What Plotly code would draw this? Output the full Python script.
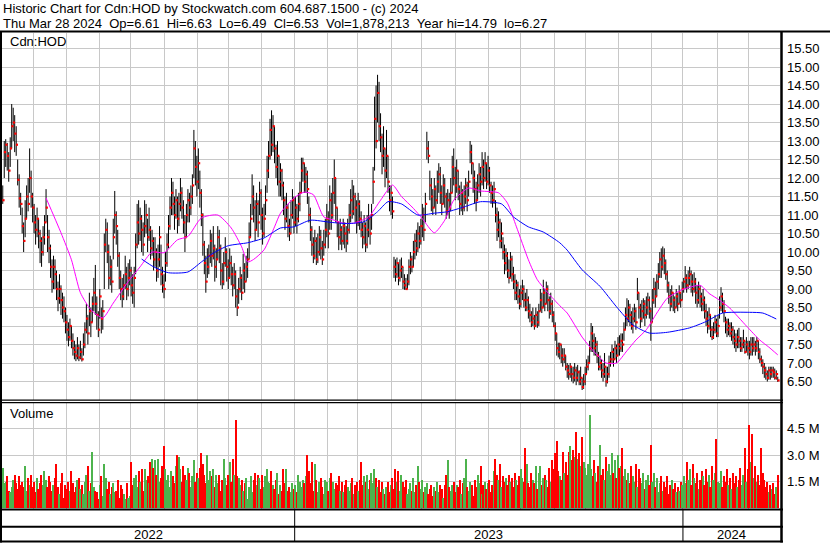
import pandas as pd
import plotly.graph_objects as go

TITLE_1 = "Historic Chart for Cdn:HOD by Stockwatch.com 604.687.1500 - (c) 2024"
TITLE_2 = ("Thu Mar 28 2024\u00a0\u00a0Op=6.61\u00a0\u00a0Hi=6.63\u00a0\u00a0Lo=6.49"
           "\u00a0\u00a0Cl=6.53\u00a0\u00a0Vol=1,878,213\u00a0\u00a0Year hi=14.79\u00a0\u00a0lo=6.27")
SYMBOL = "Cdn:HOD"
FIRST_SESSION = "2022-04-01"

# daily bars, one value per trading session
high = [
    11.80, 13.00, 13.05, 12.95, 12.70, 13.10, 14.00, 13.90, 13.70, 13.40, 12.50, 12.10, 11.60, 11.20, 10.80, 11.40, 11.80, 12.00, 12.80, 12.20,
    11.60, 11.30, 11.00, 11.20, 10.90, 10.60, 10.40, 10.70, 11.00, 11.70, 11.00, 10.60, 10.20, 9.80, 9.90, 9.80, 9.50, 9.20, 9.40, 9.10,
    8.90, 8.80, 8.50, 8.30, 8.10, 8.20, 8.00, 7.80, 7.60, 7.50, 7.70, 7.50, 7.60, 7.40, 7.80, 8.10, 8.60, 8.30, 8.90, 8.50,
    8.80, 9.30, 9.65, 8.80, 8.40, 9.00, 8.50, 8.70, 10.50, 10.90, 10.80, 10.20, 9.90, 9.80, 10.90, 11.65, 11.10, 10.60, 10.00, 9.50,
    9.30, 9.40, 9.90, 9.60, 9.70, 9.80, 9.60, 9.40, 9.60, 10.50, 11.30, 11.40, 11.20, 11.00, 10.80, 11.40, 11.30, 10.90, 11.20, 10.70,
    10.60, 10.40, 10.40, 10.10, 10.20, 10.70, 10.20, 9.60, 9.40, 10.00, 10.50, 11.00, 11.50, 12.00, 11.90, 11.50, 11.70, 11.50, 11.60, 12.00,
    11.75, 11.40, 11.00, 11.30, 11.70, 11.60, 11.80, 12.10, 13.30, 13.00, 12.60, 12.80, 12.20, 11.70, 11.05, 10.30, 9.90, 10.10, 10.20, 10.60,
    10.50, 10.70, 10.20, 10.10, 10.70, 10.60, 10.20, 9.70, 10.00, 10.40, 10.10, 9.80, 10.10, 9.90, 9.60, 9.70, 9.50, 9.00, 9.30, 9.60,
    9.40, 9.95, 9.70, 9.90, 10.10, 10.80, 11.30, 12.10, 11.80, 11.40, 11.60, 11.40, 11.90, 11.70, 11.20, 11.30, 11.80, 12.60, 13.00, 13.60,
    13.83, 13.70, 13.40, 12.90, 13.00, 12.60, 12.40, 12.25, 11.90, 11.50, 11.60, 11.30, 10.90, 11.40, 11.70, 11.50, 11.50, 11.30, 11.60, 11.90,
    12.55, 12.55, 12.40, 12.30, 12.20, 11.50, 11.20, 10.70, 10.40, 10.60, 10.40, 10.50, 10.70, 10.60, 10.30, 10.60, 10.90, 11.30, 11.10, 11.80,
    11.60, 12.00, 12.50, 12.00, 11.20, 10.80, 10.90, 10.70, 10.90, 10.80, 10.70, 10.90, 11.30, 11.70, 11.95, 11.80, 11.60, 11.40, 11.60, 11.40,
    11.10, 10.80, 11.00, 10.80, 11.00, 11.30, 11.00, 11.30, 12.30, 14.20, 14.50, 14.79, 14.60, 13.75, 13.20, 13.40, 12.80, 13.30, 12.60, 11.80,
    11.80, 11.50, 9.87, 9.80, 9.85, 9.70, 9.80, 9.85, 9.60, 9.40, 9.30, 9.40, 9.80, 10.00, 9.90, 10.30, 10.50, 10.60, 10.80, 10.70,
    10.90, 11.30, 11.20, 11.60, 13.25, 13.00, 12.20, 12.00, 11.70, 12.00, 11.80, 12.20, 12.40, 12.30, 11.80, 12.10, 12.00, 11.60, 11.70, 11.60,
    12.00, 12.60, 12.80, 12.30, 12.50, 12.20, 11.80, 11.90, 11.70, 11.80, 12.00, 11.90, 12.20, 13.00, 12.90, 12.40, 12.20, 11.90, 12.10, 12.40,
    12.30, 12.70, 12.50, 12.70, 12.40, 12.60, 12.30, 11.90, 11.80, 11.90, 11.40, 11.20, 11.10, 10.90, 10.80, 10.40, 10.20, 10.10, 10.00, 9.80,
    10.00, 9.90, 9.60, 9.40, 9.25, 9.20, 9.00, 9.10, 9.25, 9.10, 8.90, 9.00, 8.80, 8.60, 8.40, 8.50, 8.30, 8.50, 8.40, 8.60,
    9.00, 8.90, 9.25, 9.00, 9.20, 9.10, 8.80, 8.90, 8.70, 8.40, 8.10, 7.80, 7.55, 7.55, 7.50, 7.40, 7.40, 7.20, 7.00, 6.95,
    7.00, 6.90, 6.90, 7.00, 6.90, 6.95, 6.80, 6.90, 6.60, 6.70, 6.90, 7.10, 7.20, 7.60, 8.08, 8.00, 7.80, 7.70, 7.60, 7.30,
    7.20, 7.10, 7.00, 7.27, 6.90, 6.90, 7.20, 7.30, 7.50, 7.40, 7.60, 7.50, 7.70, 7.75, 7.80, 7.80, 8.10, 8.50, 8.75, 8.70,
    8.60, 8.40, 8.50, 8.60, 8.50, 9.30, 8.90, 8.60, 8.70, 8.75, 8.70, 8.80, 8.90, 8.80, 8.50, 9.00, 9.30, 9.20, 9.40, 9.70,
    10.00, 10.10, 10.15, 10.10, 9.80, 9.50, 9.20, 9.00, 9.10, 8.90, 8.80, 9.00, 8.90, 9.10, 8.90, 9.20, 9.30, 9.62, 9.40, 9.50,
    9.60, 9.50, 9.40, 9.45, 9.30, 9.10, 9.20, 9.10, 8.90, 9.00, 8.80, 8.60, 8.40, 8.50, 8.30, 8.00, 8.10, 8.30, 8.20, 8.30,
    8.80, 9.05, 8.90, 8.70, 8.25, 8.20, 8.20, 8.10, 8.10, 8.00, 7.90, 7.80, 7.90, 7.95, 7.70, 7.70, 7.90, 7.60, 7.70, 7.60,
    7.60, 7.70, 7.70, 7.70, 7.60, 7.70, 7.60, 7.40, 7.20, 7.10, 7.00, 6.90, 6.80, 6.90, 6.90, 6.90, 6.90, 6.85, 6.80, 6.63,
]
low = [
    11.30, 12.00, 12.30, 12.20, 11.90, 12.30, 12.80, 13.00, 12.70, 12.60, 11.80, 11.20, 11.00, 10.50, 10.00, 10.40, 10.90, 11.10, 11.60, 11.20,
    10.80, 10.50, 10.20, 10.40, 10.10, 9.70, 9.60, 9.90, 10.20, 10.80, 10.00, 9.70, 9.30, 8.90, 9.00, 9.00, 8.70, 8.40, 8.60, 8.30,
    8.20, 8.10, 7.80, 7.60, 7.45, 7.60, 7.40, 7.20, 7.10, 7.05, 7.10, 7.05, 7.10, 7.04, 7.20, 7.40, 7.80, 7.50, 8.00, 7.70,
    8.10, 8.40, 8.30, 7.90, 7.70, 8.20, 7.80, 7.90, 9.00, 10.00, 9.70, 9.00, 9.10, 8.90, 9.80, 10.50, 10.20, 9.60, 9.00, 8.70,
    8.50, 8.70, 9.00, 8.70, 8.80, 9.10, 8.80, 8.60, 8.50, 9.40, 10.10, 10.20, 10.30, 10.00, 9.90, 10.40, 10.50, 10.00, 10.30, 9.80,
    9.90, 9.50, 9.60, 9.20, 9.30, 9.60, 9.10, 8.90, 8.75, 9.20, 9.60, 10.10, 10.60, 11.00, 11.00, 10.60, 10.90, 10.50, 10.70, 11.10,
    10.90, 10.50, 10.00, 10.40, 10.80, 10.80, 11.00, 11.30, 12.00, 11.80, 11.50, 11.70, 11.20, 10.70, 9.90, 9.40, 8.90, 9.30, 9.40, 9.70,
    9.60, 9.80, 9.20, 9.30, 9.80, 9.70, 9.10, 9.00, 9.10, 9.60, 9.20, 9.00, 9.30, 9.10, 8.80, 9.00, 8.50, 8.27, 8.60, 8.90,
    8.70, 9.00, 8.90, 9.20, 9.30, 9.80, 10.40, 11.00, 10.80, 10.30, 10.60, 10.40, 11.00, 10.60, 10.20, 10.40, 11.00, 11.60, 12.00, 12.50,
    12.60, 12.70, 12.40, 12.00, 11.80, 11.50, 11.50, 11.40, 11.00, 10.60, 10.80, 10.40, 10.30, 10.50, 10.90, 10.50, 10.70, 10.50, 10.80, 11.10,
    11.60, 11.90, 11.60, 11.60, 11.30, 10.80, 10.30, 9.90, 9.70, 9.80, 9.65, 9.70, 9.90, 9.80, 9.65, 9.90, 10.10, 10.40, 10.10, 10.60,
    10.60, 10.90, 11.30, 10.80, 10.40, 10.05, 10.20, 10.05, 10.20, 10.10, 10.00, 10.20, 10.50, 10.80, 10.90, 11.00, 10.80, 10.50, 10.70, 10.60,
    10.40, 10.10, 10.20, 10.00, 10.10, 10.40, 10.20, 10.60, 11.30, 12.20, 12.80, 13.50, 13.00, 12.70, 12.10, 12.30, 11.75, 12.00, 11.60, 11.10,
    11.00, 10.90, 9.30, 9.20, 9.30, 9.10, 9.20, 9.30, 9.00, 8.98, 8.98, 9.00, 9.10, 9.40, 9.45, 9.60, 9.80, 9.90, 10.00, 10.10,
    10.20, 10.40, 10.30, 10.80, 12.50, 12.40, 11.40, 11.10, 11.00, 11.20, 11.00, 11.30, 11.60, 11.30, 11.00, 11.30, 11.20, 10.90, 11.00, 10.90,
    11.10, 11.60, 11.80, 11.40, 11.60, 11.40, 11.00, 11.10, 11.00, 11.10, 11.30, 11.10, 11.50, 12.40, 12.10, 11.60, 11.30, 11.10, 11.40, 11.60,
    11.50, 11.80, 11.70, 11.90, 11.70, 11.80, 11.60, 11.30, 11.20, 11.30, 10.80, 10.30, 10.40, 10.10, 10.10, 9.80, 9.40, 9.50, 9.30, 9.15,
    9.30, 9.20, 9.00, 8.70, 8.70, 8.60, 8.45, 8.50, 8.70, 8.50, 8.40, 8.40, 8.20, 8.10, 7.97, 8.00, 7.90, 8.00, 7.95, 8.00,
    8.40, 8.35, 8.50, 8.40, 8.60, 8.40, 8.20, 8.30, 8.10, 7.97, 7.60, 7.20, 7.15, 7.10, 7.00, 6.90, 7.00, 6.80, 6.60, 6.55,
    6.60, 6.50, 6.45, 6.50, 6.40, 6.50, 6.40, 6.40, 6.27, 6.30, 6.40, 6.70, 6.80, 7.00, 7.30, 7.30, 7.20, 7.20, 7.00, 6.80,
    6.80, 6.60, 6.50, 6.60, 6.36, 6.45, 6.60, 6.90, 7.00, 6.90, 7.10, 7.00, 7.20, 7.20, 7.30, 7.30, 7.60, 7.90, 8.00, 8.10,
    8.00, 7.90, 7.80, 8.10, 7.90, 8.70, 8.20, 7.95, 8.10, 8.20, 8.00, 8.20, 8.30, 8.20, 7.60, 8.10, 8.60, 8.50, 8.80, 9.00,
    9.30, 9.30, 9.50, 9.40, 9.25, 8.90, 8.60, 8.40, 8.50, 8.40, 8.35, 8.50, 8.40, 8.60, 8.50, 8.70, 8.90, 9.00, 8.90, 9.00,
    9.10, 8.90, 8.80, 8.90, 8.60, 8.50, 8.60, 8.50, 8.40, 8.40, 8.20, 8.00, 7.80, 7.90, 7.70, 7.62, 7.65, 7.80, 7.70, 7.70,
    8.20, 8.40, 8.35, 8.10, 7.80, 7.70, 7.75, 7.70, 7.60, 7.50, 7.40, 7.30, 7.40, 7.40, 7.30, 7.30, 7.40, 7.25, 7.30, 7.20,
    7.10, 7.20, 7.20, 7.30, 7.20, 7.30, 7.10, 7.00, 6.90, 6.70, 6.60, 6.55, 6.50, 6.55, 6.55, 6.60, 6.60, 6.55, 6.55, 6.49,
]
close = [
    11.40, 12.70, 12.90, 12.60, 12.20, 12.80, 13.40, 13.50, 13.20, 12.90, 11.95, 11.45, 11.30, 10.70, 10.30, 10.90, 11.50, 11.30, 12.00, 11.50,
    11.20, 10.80, 10.60, 10.90, 10.50, 10.30, 10.00, 10.40, 10.80, 11.20, 10.40, 10.10, 9.60, 9.20, 9.60, 9.40, 9.00, 8.75, 9.00, 8.70,
    8.50, 8.40, 8.10, 7.90, 7.70, 8.00, 7.60, 7.40, 7.30, 7.20, 7.40, 7.15, 7.30, 7.10, 7.50, 7.90, 8.20, 7.80, 8.40, 8.10,
    8.60, 8.90, 8.60, 8.30, 7.90, 8.80, 8.20, 8.40, 10.20, 10.60, 10.00, 9.30, 9.60, 9.20, 10.40, 11.00, 10.70, 9.90, 9.30, 9.00,
    8.80, 9.10, 9.40, 9.00, 9.30, 9.50, 9.10, 8.90, 9.30, 10.20, 10.80, 10.50, 10.90, 10.60, 10.20, 10.70, 11.00, 10.40, 10.60, 10.10,
    10.30, 9.80, 10.00, 9.50, 9.80, 10.40, 9.40, 9.10, 9.00, 9.70, 10.20, 10.70, 11.20, 11.60, 11.30, 11.00, 11.40, 10.90, 11.30, 11.60,
    11.20, 10.80, 10.40, 11.00, 11.40, 11.20, 11.50, 11.80, 12.80, 12.30, 11.90, 12.40, 11.60, 11.00, 10.20, 9.70, 9.20, 9.60, 9.90, 10.30,
    9.90, 10.10, 9.60, 9.80, 10.40, 10.10, 9.50, 9.20, 9.70, 10.00, 9.60, 9.30, 9.70, 9.40, 9.10, 9.40, 8.80, 8.50, 9.00, 9.30,
    8.90, 9.50, 9.20, 9.60, 9.80, 10.40, 10.90, 11.50, 11.20, 10.60, 11.30, 10.80, 11.60, 11.00, 10.50, 10.90, 11.40, 12.20, 12.60, 13.30,
    12.90, 13.40, 12.80, 12.30, 12.60, 11.90, 12.20, 11.80, 11.40, 10.90, 11.20, 10.70, 10.50, 11.00, 11.40, 10.80, 11.20, 10.90, 11.30, 11.60,
    12.20, 12.40, 11.90, 12.10, 11.70, 11.00, 10.60, 10.20, 9.90, 10.30, 9.80, 10.00, 10.40, 10.10, 9.80, 10.20, 10.60, 10.90, 10.50, 11.40,
    11.00, 11.60, 12.00, 11.20, 10.80, 10.40, 10.60, 10.30, 10.70, 10.50, 10.30, 10.60, 11.00, 11.40, 11.10, 11.50, 11.20, 10.80, 11.30, 10.90,
    10.60, 10.40, 10.70, 10.20, 10.60, 10.90, 10.50, 11.00, 11.90, 13.60, 13.00, 14.30, 13.40, 13.10, 12.60, 12.80, 12.20, 12.60, 11.90, 11.40,
    11.60, 11.10, 9.60, 9.40, 9.70, 9.30, 9.50, 9.60, 9.20, 9.10, 9.00, 9.20, 9.60, 9.80, 9.60, 10.00, 10.30, 10.10, 10.50, 10.30,
    10.70, 11.00, 10.60, 11.30, 12.80, 12.60, 11.80, 11.50, 11.20, 11.70, 11.40, 11.90, 12.10, 11.60, 11.30, 11.80, 11.50, 11.10, 11.40, 11.20,
    11.60, 12.30, 12.00, 11.80, 12.20, 11.70, 11.30, 11.60, 11.20, 11.50, 11.80, 11.40, 11.90, 12.70, 12.40, 12.00, 11.70, 11.40, 11.80, 12.10,
    11.90, 12.30, 12.00, 12.40, 11.90, 12.20, 11.80, 11.60, 11.40, 11.70, 11.00, 10.60, 10.80, 10.30, 10.50, 10.00, 9.70, 9.90, 9.50, 9.30,
    9.80, 9.40, 9.20, 8.90, 9.10, 8.80, 8.60, 8.90, 9.00, 8.70, 8.50, 8.70, 8.40, 8.30, 8.10, 8.20, 8.00, 8.30, 8.10, 8.40,
    8.70, 8.50, 8.90, 8.60, 9.00, 8.70, 8.40, 8.60, 8.30, 8.00, 7.80, 7.40, 7.30, 7.50, 7.20, 7.10, 7.20, 6.90, 6.80, 6.70,
    6.90, 6.70, 6.60, 6.80, 6.60, 6.75, 6.50, 6.60, 6.35, 6.50, 6.70, 6.90, 7.00, 7.40, 7.80, 7.60, 7.40, 7.50, 7.20, 6.90,
    7.00, 6.80, 6.70, 6.90, 6.50, 6.70, 7.00, 7.10, 7.30, 7.10, 7.40, 7.20, 7.50, 7.40, 7.60, 7.50, 7.90, 8.30, 8.20, 8.50,
    8.30, 8.00, 8.20, 8.40, 8.10, 8.90, 8.50, 8.20, 8.40, 8.60, 8.30, 8.50, 8.70, 8.40, 8.10, 8.70, 9.00, 8.80, 9.20, 9.40,
    9.80, 9.60, 9.90, 9.70, 9.40, 9.10, 8.80, 8.60, 8.90, 8.70, 8.50, 8.80, 8.60, 8.90, 8.70, 9.00, 9.20, 9.30, 9.10, 9.30,
    9.40, 9.20, 9.00, 9.20, 8.90, 8.70, 9.00, 8.80, 8.60, 8.70, 8.40, 8.20, 8.00, 8.30, 7.90, 7.70, 7.90, 8.10, 7.80, 8.00,
    8.50, 8.80, 8.60, 8.40, 8.10, 7.90, 8.00, 7.80, 7.90, 7.70, 7.60, 7.50, 7.70, 7.60, 7.40, 7.50, 7.60, 7.30, 7.50, 7.40,
    7.30, 7.50, 7.40, 7.50, 7.40, 7.60, 7.30, 7.10, 7.00, 6.90, 6.80, 6.70, 6.60, 6.80, 6.70, 6.80, 6.75, 6.60, 6.70, 6.53,
]
# millions of shares
volume_m = [
    2.3, 1.4, 1.5, 1.8, 1.0, 0.9, 1.2, 1.6, 1.9, 1.4, 1.1, 1.8, 1.3, 1.5, 1.2, 2.4, 1.0, 1.7, 1.3, 1.9,
    1.2, 1.5, 0.9, 1.7, 1.1, 1.4, 1.9, 1.3, 2.1, 1.6, 1.2, 1.8, 1.5, 1.0, 1.3, 1.7, 2.5, 1.2, 0.8, 1.4,
    2.0, 0.6, 1.3, 1.1, 1.5, 1.0, 2.1, 1.4, 0.9, 1.2, 1.6, 1.7, 1.1, 1.3, 0.8, 1.5, 1.9, 2.4, 1.0, 1.4,
    3.2, 1.2, 1.0, 0.9, 0.5, 1.3, 1.8, 0.7, 2.5, 1.7, 1.1, 1.5, 0.8, 1.2, 1.4, 0.9, 1.0, 1.6, 0.6, 1.3,
    1.1, 0.8, 0.5, 1.4, 0.6, 0.7, 2.6, 1.3, 1.7, 1.9, 1.2, 2.1, 1.5, 2.2, 1.0, 2.2, 1.6, 1.8, 1.4, 2.6,
    2.8, 2.3, 2.7, 1.9, 2.8, 1.5, 1.7, 2.4, 3.5, 2.2, 1.6, 1.9, 1.2, 2.1, 1.8, 1.4, 2.4, 3.0, 2.9, 2.2,
    1.5, 2.4, 1.9, 1.6, 2.3, 2.0, 1.2, 1.8, 2.7, 1.5, 2.0, 1.7, 2.3, 3.1, 2.5, 1.9, 1.4, 3.0, 1.6, 2.1,
    1.8, 2.2, 1.2, 1.9, 1.4, 1.9, 1.0, 1.6, 2.8, 1.7, 1.3, 1.9, 2.6, 1.5, 2.8, 1.9, 5.0, 1.8, 1.7, 1.3,
    1.6, 1.0, 1.4, 1.7, 0.5, 1.2, 1.8, 0.9, 1.6, 2.0, 1.3, 1.9, 1.7, 1.1, 1.9, 1.2, 1.8, 2.2, 1.5, 1.4,
    2.1, 1.3, 1.1, 1.6, 2.0, 0.8, 1.3, 1.0, 2.2, 1.4, 2.2, 1.0, 1.2, 0.9, 1.4, 1.1, 1.3, 0.9, 1.9, 1.5,
    1.2, 1.6, 1.4, 1.8, 3.0, 2.1, 1.4, 2.6, 1.0, 2.5, 1.6, 0.9, 1.5, 1.7, 1.2, 0.8, 1.6, 1.5, 1.0, 1.7,
    2.0, 1.5, 1.1, 1.4, 1.3, 1.8, 1.0, 1.5, 0.9, 1.3, 1.6, 1.2, 1.0, 1.4, 1.7, 0.8, 1.3, 1.5, 1.0, 1.6,
    2.6, 1.3, 1.8, 1.5, 1.9, 1.1, 1.6, 2.0, 1.4, 2.2, 1.7, 1.2, 1.6, 0.9, 1.5, 1.1, 0.8, 1.2, 1.5, 0.9,
    1.3, 1.7, 1.1, 2.2, 1.5, 2.1, 1.0, 1.9, 1.5, 1.2, 1.6, 0.8, 1.1, 1.4, 1.0, 1.7, 0.9, 1.3, 2.4, 1.5,
    1.1, 1.6, 0.9, 1.2, 1.4, 0.8, 1.1, 1.3, 0.7, 1.2, 1.0, 1.5, 0.9, 1.3, 1.1, 0.6, 1.3, 1.9, 2.7, 1.2,
    1.0, 1.3, 1.5, 0.9, 1.3, 1.2, 1.6, 0.8, 1.4, 1.7, 2.8, 1.2, 1.0, 1.5, 1.3, 0.7, 1.6, 1.2, 1.9, 1.4,
    2.4, 0.8, 1.3, 1.5, 1.1, 1.4, 1.6, 0.9, 1.3, 2.1, 2.8, 1.9, 1.6, 2.5, 1.2, 1.8, 1.5, 1.7, 1.3, 1.9,
    1.5, 1.7, 1.2, 2.0, 1.6, 1.3, 1.8, 2.2, 1.7, 1.5, 3.4, 2.5, 1.4, 1.2, 2.0, 1.6, 1.4, 2.4, 1.1, 2.0,
    2.4, 1.3, 1.7, 1.9, 1.6, 1.2, 2.3, 1.5, 2.7, 2.2, 3.1, 3.8, 2.1, 1.8, 1.6, 3.2, 2.0, 2.6, 1.9, 3.2,
    3.5, 2.7, 3.3, 2.9, 4.3, 2.8, 3.1, 2.4, 4.0, 2.6, 2.3, 1.9, 2.5, 5.3, 2.2, 1.8, 2.7, 2.0, 1.5, 2.4,
    3.6, 1.9, 2.2, 1.6, 2.9, 2.1, 2.5, 1.9, 3.1, 2.0, 2.7, 1.7, 3.0, 2.3, 2.4, 3.4, 1.8, 2.2, 1.6, 2.0,
    1.4, 2.4, 1.8, 1.5, 2.5, 1.2, 2.2, 1.7, 1.4, 2.0, 1.1, 1.6, 1.9, 1.3, 3.6, 1.5, 2.0, 1.2, 1.7, 0.9,
    1.4, 1.8, 1.0, 1.5, 1.2, 1.8, 0.8, 1.3, 1.6, 1.1, 1.4, 0.9, 1.2, 1.0, 1.5, 1.3, 1.8, 1.4, 2.6, 1.6,
    2.2, 1.3, 2.5, 1.7, 1.4, 2.0, 1.1, 1.6, 2.1, 1.8, 1.3, 2.2, 1.5, 1.9, 1.2, 2.4, 1.6, 2.0, 3.9, 1.5,
    1.4, 2.1, 1.2, 1.8, 1.5, 2.2, 1.3, 1.7, 1.1, 2.0, 1.4, 1.8, 1.2, 1.6, 2.3, 1.3, 1.9, 3.4, 1.5, 2.2,
    4.7, 2.6, 4.2, 1.7, 2.4, 1.5, 1.9, 1.3, 3.4, 2.0, 1.6, 1.2, 1.5, 0.9, 1.3, 1.1, 1.4, 0.8, 1.2, 1.878,
]

# moving averages (session number -> price)
ma_fast_session = [29, 39, 46, 52, 59, 67, 74, 84, 92, 100, 108, 117, 124, 133, 144, 153, 160, 164, 168, 175,
                   182, 186, 195, 202, 208, 215, 222, 228, 235, 245, 253, 261, 267, 275, 281, 289, 296, 302, 312, 320,
                   332, 338, 344, 352, 358, 365, 373, 378, 388, 395, 404, 411, 418, 424, 431, 438, 445, 455, 467, 473,
                   480, 487, 498, 507, 513, 519]
ma_fast_value = [11.46, 10.52, 9.79, 8.90, 8.44, 8.22, 8.62, 9.20, 9.60, 10.00, 9.98, 10.33, 10.42, 10.92, 11.00, 10.65, 10.14, 9.73, 9.80, 10.06,
                 10.68, 11.05, 11.46, 11.62, 11.55, 10.95, 10.86, 10.78, 10.78, 10.95, 11.40, 11.81, 11.50, 11.18, 10.90, 10.52, 10.86, 11.40, 11.73, 11.65,
                 11.60, 11.32, 10.68, 9.79, 9.25, 8.90, 8.55, 8.35, 7.70, 7.35, 7.00, 7.00, 7.33, 7.62, 7.90, 8.35, 8.75, 8.98, 9.10, 8.88,
                 8.70, 8.48, 8.00, 7.62, 7.43, 7.22]
ma_slow_session = [93, 101, 111, 124, 133, 141, 151, 164, 175, 186, 195, 206, 220, 231, 242, 251, 258, 267, 278, 289,
                   298, 309, 320, 334, 342, 352, 362, 373, 378, 388, 400, 411, 422, 433, 445, 460, 471, 482, 500, 509,
                   518]
ma_slow_value = [9.81, 9.60, 9.44, 9.46, 9.73, 9.97, 10.17, 10.25, 10.38, 10.65, 10.68, 10.86, 10.80, 10.77, 10.82, 11.09, 11.36, 11.30, 11.00, 11.05,
                 11.09, 11.22, 11.36, 11.30, 10.95, 10.68, 10.54, 10.25, 10.05, 9.52, 9.07, 8.52, 8.03, 7.81, 7.83, 7.95, 8.12, 8.35, 8.37, 8.35,
                 8.19]

price_ticks = [6.5, 7.0, 7.5, 8.0, 8.5, 9.0, 9.5, 10.0, 10.5, 11.0, 11.5, 12.0, 12.5, 13.0, 13.5, 14.0, 14.5, 15.0, 15.5]
volume_ticks = [1.5, 3.0, 4.5]

FONT = "Liberation Sans, Arial, sans-serif"
GRID = "#c8c8c8"
GREEN, RED, GREY = "#4db34d", "#ff0000", "#a8a8a8"

# page geometry (pixels)
W, H = 830, 543
ML, MR, MT, MB = 2, 50, 33, 33


def fx(px):
    return (px - ML) / (W - ML - MR)


def fy(py):
    return (H - MB - py) / (H - MT - MB)


n = len(close)
sessions = list(range(n))
dates = pd.bdate_range(FIRST_SESSION, periods=n)
month_starts = [i for i in range(1, n) if dates[i].month != dates[i - 1].month]
year_starts = [i for i in range(1, n) if dates[i].year != dates[i - 1].year]
x_max = n + 0.5

# high-low sticks as one broken line
bx, by = [], []
for i, (h, l) in enumerate(zip(high, low)):
    bx += [i, i, None]
    by += [l, h, None]

vol_colors = [GREEN]
for prev, cur in zip(close[:-1], close[1:]):
    vol_colors.append(GREEN if cur > prev else RED if cur < prev else GREY)

fig = go.Figure()
fig.add_trace(go.Scatter(x=bx, y=by, mode="lines", line=dict(color="black", width=1),
                         hoverinfo="skip", showlegend=False))
# close ticks: small red squares on the right edge of each stick
fig.add_trace(go.Scatter(x=[i + 0.5 for i in sessions], y=close, mode="markers",
                         marker=dict(symbol="square", size=2.2, color=RED, line_width=0),
                         hoverinfo="skip", showlegend=False))
fig.add_trace(go.Scatter(x=ma_fast_session, y=ma_fast_value, mode="lines",
                         line=dict(color="#ff00ff", width=1, shape="spline", smoothing=0.6),
                         hoverinfo="skip", showlegend=False))
fig.add_trace(go.Scatter(x=ma_slow_session, y=ma_slow_value, mode="lines",
                         line=dict(color="#0000ff", width=1, shape="spline", smoothing=0.6),
                         hoverinfo="skip", showlegend=False))
fig.add_trace(go.Bar(x=sessions, y=volume_m, width=0.8, marker=dict(color=vol_colors, line_width=0),
                     xaxis="x2", yaxis="y2", hoverinfo="skip", showlegend=False))

xaxis_common = dict(range=[-0.5, x_max], tickvals=[i - 0.5 for i in month_starts], showticklabels=False,
                    ticks="", showgrid=True, gridcolor=GRID, gridwidth=1, zeroline=False, showline=False)
yaxis_common = dict(side="right", ticks="", showgrid=True, gridcolor=GRID, gridwidth=1, zeroline=False,
                    showline=False, ticklabelstandoff=6, tickfont=dict(family=FONT, size=13, color="black"))

fig.update_layout(
    width=W, height=H,
    margin=dict(l=ML, r=MR, t=MT, b=MB),
    paper_bgcolor="white", plot_bgcolor="white",
    showlegend=False, bargap=0,
    xaxis=dict(anchor="y", **xaxis_common),
    xaxis2=dict(anchor="y2", matches="x", **xaxis_common),
    yaxis=dict(domain=[fy(400), 1], range=[6.0, 15.92], tickvals=price_ticks,
               ticktext=[f"{v:.2f}" for v in price_ticks], **yaxis_common),
    yaxis2=dict(domain=[0, fy(403)], range=[-0.1, 5.95], tickvals=volume_ticks,
                ticktext=[f"{v:.1f} M" for v in volume_ticks], **yaxis_common),
)

# frame lines
shapes = []


def hline(py, x0=0, x1=783, w=2):
    shapes.append(dict(type="line", xref="paper", yref="paper", x0=fx(x0), x1=fx(x1),
                       y0=fy(py), y1=fy(py), line=dict(color="black", width=w)))


def vline(px, y0, y1, w=2):
    shapes.append(dict(type="line", xref="paper", yref="paper", x0=fx(px), x1=fx(px),
                       y0=fy(y0), y1=fy(y1), line=dict(color="black", width=w)))


hline(31.5, 0, W)
hline(400.2, w=1.3)
hline(402.7, w=1.3)
hline(509.5)
hline(526.7)
hline(541.5)
vline(1, 31, 542.5)
vline(781.5, 31, 542.5, w=2.5)
for ys in year_starts:
    shapes.append(dict(type="line", xref="x", yref="paper", x0=ys - 0.5, x1=ys - 0.5,
                       y0=fy(510), y1=fy(541), line=dict(color="black", width=1)))
fig.update_layout(shapes=shapes)

anns = [
    dict(text=TITLE_1, x=fx(1), y=fy(8.5)),
    dict(text=TITLE_2, x=fx(1), y=fy(23)),
    dict(text=SYMBOL, x=fx(8), y=fy(41.5)),
    dict(text="Volume", x=fx(8), y=fy(413)),
]
for a in anns:
    a.update(xref="paper", yref="paper", xanchor="left", yanchor="middle", showarrow=False,
             font=dict(family=FONT, size=13, color="black"))

bounds = [-0.5] + [ys - 0.5 for ys in year_starts] + [x_max]
for (a, b), d in zip(zip(bounds[:-1], bounds[1:]), [dates[0]] + [dates[ys] for ys in year_starts]):
    anns.append(dict(text=str(d.year), x=(a + b) / 2, xref="x", y=fy(534), yref="paper",
                     xanchor="center", yanchor="middle", showarrow=False,
                     font=dict(family=FONT, size=13, color="black")))
fig.update_layout(annotations=anns)

# the page should start at the window's corner, with no mode bar
fig.write_html("out.html", config={"displayModeBar": False},
               post_script="document.body.style.margin = '0';")
